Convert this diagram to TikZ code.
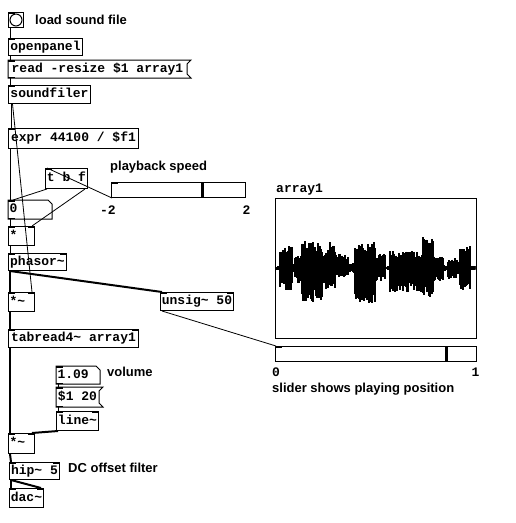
\documentclass[tikz,border=0pt]{standalone}
\usepackage{fontspec}
\setmainfont{Liberation Sans}
\newfontfamily\pdmono{Liberation Mono}
\usetikzlibrary{calc}
\newcommand\pdtxt{\pdmono\bfseries\fontsize{13}{15}\selectfont}
\newcommand\pdlabel{\bfseries\fontsize{13}{15}\selectfont}
\newcommand\tl{\textasciitilde}
\begin{document}
\begin{tikzpicture}[x=1pt,y=-1pt,
  obj/.style={draw, line width=1pt, anchor=north west, inner xsep=1pt, inner ysep=0pt,
    minimum height=18, text height=9pt, text depth=3pt, font=\pdtxt},
  objnb/.style={obj, draw=none},
  numbox/.style={objnb, align=left},
  lobj/.style={obj, align=left, text width=24},
  sig/.style={line width=2pt},
  ctl/.style={line width=0.8pt},
  lab/.style={anchor=west, font=\pdlabel, inner sep=0},
  monolab/.style={font=\pdtxt, inner sep=0},
  edge/.style={line width=1pt},
  slider/.style={draw, line width=1pt, anchor=north west, inner sep=0, minimum height=15},
]
\fill[white] (0,0) rectangle (515,523);
\useasboundingbox (0,0) rectangle (515,523);

% ---------- boxes ----------
\node[obj, minimum width=15, minimum height=15, inner sep=0] (bang) at (8,12) {};
\draw[edge] (bang.center) circle (6);
\node[lab] (lload) at (35,19.5) {load sound file};

\node[obj, minimum width=74, minimum height=17] (openpanel) at (8,38) {openpanel};
\node[objnb, minimum width=178, minimum height=17] (read) at (8,60) {read -resize \$1 array1};
\draw[edge] (read.north west) -- ($(read.north east)+(4,0)$) -- ($(read.north east)+(0,4)$)
  -- ($(read.south east)+(0,-4)$) -- ($(read.south east)+(4,0)$) -- (read.south west) -- cycle;
\node[obj, minimum width=82, minimum height=18] (soundfiler) at (8,85) {soundfiler};
\node[obj, minimum width=130, minimum height=20] (expr) at (8,128) {expr 44100 / \$f1};

\node[obj, minimum width=42, minimum height=20] (tbf) at (45,168) {t b f};
\node[lab] (lspeed) at (110,167) {playback speed};
\node[slider, minimum width=134] (speed) at (111,182) {};
\draw[line width=3pt] ($(speed.north west)+(91,0)$) -- ($(speed.south west)+(91,0)$);
\node[monolab] (lm2) at (108,210) {-2};
\node[monolab] (lp2) at (246.5,210) {2};

\node[numbox, text width=41, minimum height=18] (num0) at (8,200) {0};
\draw[edge] (num0.north west) -- ($(num0.north east)+(-4,0)$) -- ($(num0.north east)+(0,4)$)
  -- (num0.south east) -- (num0.south west) -- cycle;
\node[lobj, minimum height=19] (mul) at (8,226) {*};
\node[obj, minimum width=58, minimum height=17] (phasor) at (8,253) {phasor\tl};
\node[lobj, minimum height=19] (mulA) at (8,292) {*\tl};
\node[obj, minimum width=73, minimum height=18] (unsig) at (160,292) {unsig\tl{} 50};
\node[obj, minimum width=130, minimum height=18] (tabread) at (8,329) {tabread4\tl{} array1};

\node[numbox, text width=41, minimum height=17] (num109) at (56,366) {1.09};
\draw[edge] (num109.north west) -- ($(num109.north east)+(-4,0)$) -- ($(num109.north east)+(0,4)$)
  -- (num109.south east) -- (num109.south west) -- cycle;
\node[lab] (lvol) at (107,372) {volume};
\node[objnb, minimum width=42, minimum height=19] (msg120) at (56,387) {\$1 20};
\draw[edge] (msg120.north west) -- ($(msg120.north east)+(4,0)$) -- ($(msg120.north east)+(0,4)$)
  -- ($(msg120.south east)+(0,-4)$) -- ($(msg120.south east)+(4,0)$) -- (msg120.south west) -- cycle;
\node[obj, minimum width=42, minimum height=19] (line) at (56,411) {line\tl};
\node[lobj, minimum height=20] (mulB) at (8,433) {*\tl};
\node[obj, minimum width=50, minimum height=17] (hip) at (9,462) {hip\tl{} 5};
\node[lab] (ldc) at (68,468) {DC offset filter};
\node[obj, minimum width=34, minimum height=19] (dac) at (9,488) {dac\tl};

% ---------- array ----------
\node[monolab, anchor=west] (larray) at (276,190) {array1};
\node[obj, minimum width=201, minimum height=140] (graph) at (275,198) {};
\begin{scope}
\clip (275.5,198.5) rectangle (475.5,337.5);
\pgfmathsetseed{7}
\foreach \a/\b/\u/\d in {275/280/2/2, 280/292/22/24, 292/295/4/4, 295/302/13/15,
  302/322/28/34, 322/328/19/21, 328/335/27/24, 335/348/15/10, 348/355/5/5,
  355/375/26/35, 375/385/15/13, 385/390/2/2, 390/423/17/25, 423/433/32/30,
  433/443/13/13, 443/448/3/3, 448/458/10/11, 458/460/3/3, 460/470/25/26, 470/476/2/2} {
  \foreach \x in {\a,...,\b} {
    \pgfmathsetmacro\ru{\u*(0.55+0.45*rnd)}
    \pgfmathsetmacro\rd{\d*(0.55+0.45*rnd)}
    \draw[line width=1.3pt] (\x,268-\ru) -- (\x,268+\rd);
  }
}
\end{scope}
\node[slider, minimum width=201] (pos) at (275,346) {};
\draw[line width=3pt] ($(pos.north west)+(171,0)$) -- ($(pos.south west)+(171,0)$);
\node[monolab] (l0) at (276,372) {0};
\node[monolab] (l1) at (475.5,372) {1};
\node[lab] (lpos) at (272,389) {slider shows playing position};

% ---------- ports ----------
\foreach \n in {bang,openpanel,read,soundfiler,expr,tbf,speed,num0,mul,phasor,mulA,unsig,tabread,num109,msg120,line,mulB,hip,dac,pos} {
  \fill (\n.north west) rectangle ++(7,1.5);
}
\foreach \n in {bang,openpanel,read,soundfiler,expr,tbf,speed,num0,mul,phasor,mulA,unsig,tabread,num109,msg120,line,mulB,hip,pos} {
  \fill (\n.south west) rectangle ++(7,-1.5);
}
\foreach \n in {mul,phasor,mulA,unsig,tabread,line,mulB,hip,dac} {
  \fill (\n.north east) rectangle ++(-7,1.5);
}
\foreach \n in {soundfiler,tbf} {
  \fill (\n.south east) rectangle ++(-7,-1.5);
}

% ---------- connections ----------
\draw[ctl] ($(bang.south west)+(2,0)$) -- ($(openpanel.north west)+(2,0)$);
\draw[ctl] ($(openpanel.south west)+(2,0)$) -- ($(read.north west)+(2,0)$);
\draw[ctl] ($(read.south west)+(2,0)$) -- ($(soundfiler.north west)+(2,0)$);
\draw[ctl] ($(soundfiler.south west)+(3,0)$) -- ($(expr.north west)+(3,0)$);
\draw[ctl] ($(soundfiler.south west)+(4.5,0)$) -- ($(mulA.north east)+(-3,0)$);
\draw[ctl] ($(expr.south west)+(2,0)$) -- ($(num0.north west)+(2,0)$);
\draw[ctl] ($(speed.south west)+(1,0)$) -- ($(tbf.north west)+(2,0)$);
\draw[ctl] ($(tbf.south west)+(2,0)$) -- ($(num0.north west)+(5,0)$);
\draw[ctl] ($(tbf.south east)+(-3,0)$) -- ($(mul.north east)+(-3,0)$);
\draw[ctl] ($(num0.south west)+(2,0)$) -- ($(mul.north west)+(2,0)$);
\draw[ctl] ($(mul.south west)+(2,0)$) -- ($(phasor.north west)+(2,0)$);
\draw[sig] ($(phasor.south west)+(2,0)$) -- ($(mulA.north west)+(2,0)$);
\draw[sig] ($(phasor.south west)+(2,0)$) -- ($(unsig.north west)+(2,0)$);
\draw[ctl] ($(unsig.south west)+(2,0)$) -- ($(pos.north west)+(1,0)$);
\draw[sig] ($(mulA.south west)+(2,0)$) -- ($(tabread.north west)+(2,0)$);
\draw[sig] ($(tabread.south west)+(2,0)$) -- ($(mulB.north west)+(2,0)$);
\draw[ctl] ($(num109.south west)+(2,0)$) -- ($(msg120.north west)+(2,0)$);
\draw[ctl] ($(msg120.south west)+(2,0)$) -- ($(line.north west)+(2,0)$);
\draw[sig] ($(line.south west)+(2,0)$) -- ($(mulB.north east)+(-3,0)$);
\draw[sig] ($(mulB.south west)+(2,0)$) -- ($(hip.north west)+(2,0)$);
\draw[sig] ($(hip.south west)+(2,0)$) -- ($(dac.north west)+(2,0)$);
\draw[sig] ($(hip.south west)+(2,0)$) -- ($(dac.north east)+(-3,0)$);
\end{tikzpicture}
\end{document}
